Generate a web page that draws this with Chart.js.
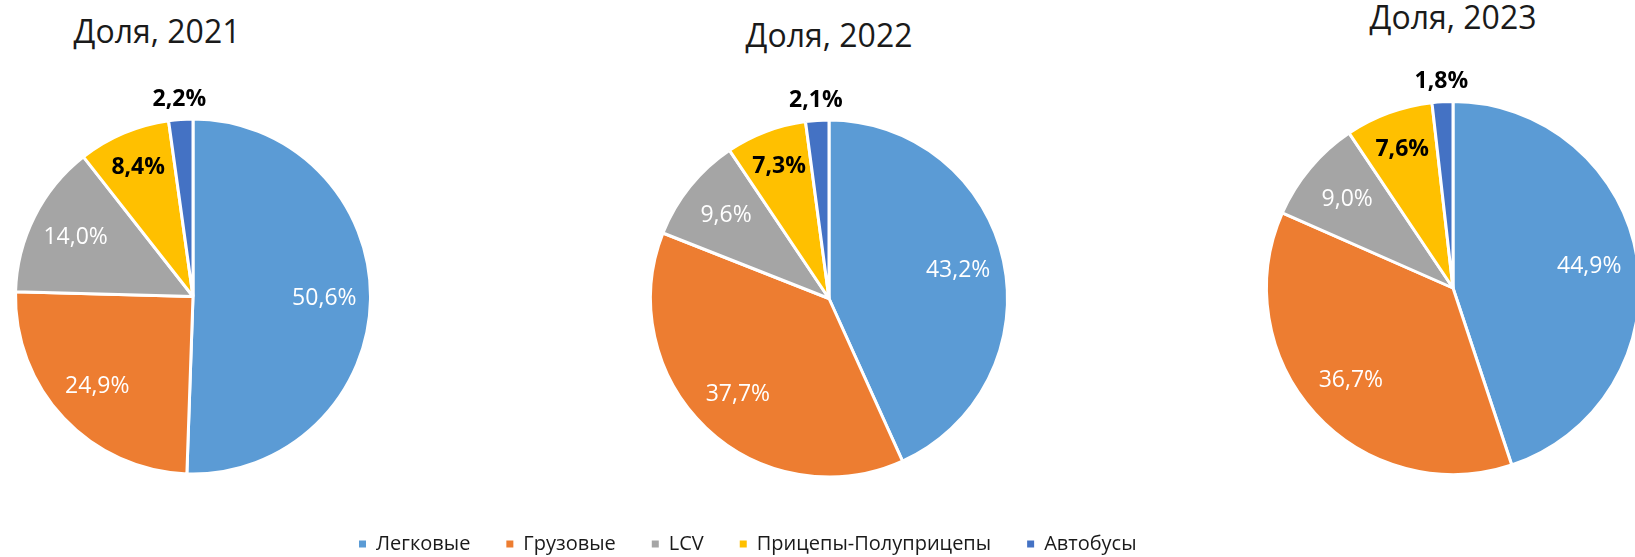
<!DOCTYPE html>
<html lang="ru">
<head>
<meta charset="UTF-8">
<title>Доля</title>
<script src="https://cdn.jsdelivr.net/npm/chart.js"></script>
<style>
  html, body { margin: 0; padding: 0; width: 1635px; height: 557px; overflow: hidden; background: #fff; }
  canvas { position: absolute; }
  .title { position: absolute; width: 300px; text-align: center; font-family: 'Open Sans', sans-serif; font-size: 32px; line-height: 32px; color: #1a1a1a; }
</style>
</head>
<body>

<div class="title" id="t1" style="left:7px; top:15px;"></div>
<div class="title" id="t2" style="left:679px; top:19px;"></div>
<div class="title" id="t3" style="left:1303px; top:1px;"></div>

<canvas id="pie2021" width="386" height="593" style="left:0; top:0;"></canvas>
<canvas id="pie2022" width="1012" height="564" style="left:323px; top:0;"></canvas>
<canvas id="pie2023" width="440" height="576" style="left:1233px; top:0;"></canvas>

<script>
// данные
const categories = ['Легковые', 'Грузовые', 'LCV', 'Прицепы-Полуприцепы', 'Автобусы'];
const years = ['2021', '2022', '2023'];
const share2021 = [50.6, 24.9, 14.0, 8.4, 2.2];
const share2022 = [43.2, 37.7, 9.6, 7.3, 2.1];
const share2023 = [44.9, 36.7, 9.0, 7.6, 1.8];

const colors = ['#5B9BD5', '#ED7D31', '#A5A5A5', '#FFC000', '#4472C4'];
const labelColors = ['#ffffff', '#ffffff', '#ffffff', '#000000', '#000000'];

Chart.defaults.font.family = "'Open Sans', sans-serif";

// подписи значений на секторах
const pieLabels = {
  id: 'pieLabels',
  afterDatasetsDraw(chart) {
    const ctx = chart.ctx;
    const values = chart.data.datasets[0].data;
    chart.getDatasetMeta(0).data.forEach((arc, i) => {
      const p = arc.getProps(['x', 'y', 'startAngle', 'endAngle', 'outerRadius'], true);
      const mid = (p.startAngle + p.endAngle) / 2;
      const outside = values[i] < 3;
      const dist = outside ? p.outerRadius + 20 : p.outerRadius * (i === 3 ? 0.79 : 0.74);
      const dark = labelColors[i] === '#000000';
      ctx.save();
      ctx.font = (dark ? 'bold ' : '') + "23px 'Open Sans', sans-serif";
      ctx.fillStyle = labelColors[i];
      ctx.textAlign = 'center';
      ctx.textBaseline = 'middle';
      ctx.fillText(values[i].toFixed(1).replace('.', ',') + '%',
        p.x + Math.cos(mid) * dist, p.y + Math.sin(mid) * dist);
      ctx.restore();
    });
  }
};

function makePie(id, values, radius, withLegend, padTop) {
  return new Chart(document.getElementById(id), {
    type: 'pie',
    data: {
      labels: categories,
      datasets: [{
        data: values,
        backgroundColor: colors,
        borderColor: '#ffffff',
        borderWidth: 3
      }]
    },
    options: {
      responsive: false,
      animation: false,
      radius: radius,
      layout: { padding: { top: padTop, bottom: 0, left: 0, right: 0 } },
      plugins: {
        tooltip: { enabled: false },
        legend: {
          display: withLegend,
          position: 'bottom',
          align: 'start',
          labels: {
            boxWidth: 7,
            boxHeight: 7,
            padding: 36,
            color: '#1a1a1a',
            font: { size: 20 },
            generateLabels(chart) {
              const items = Chart.overrides.doughnut.plugins.legend.labels.generateLabels(chart);
              return items.map(it => Object.assign(it, { lineWidth: 0, strokeStyle: 'rgba(0,0,0,0)' }));
            }
          }
        }
      }
    },
    plugins: [pieLabels]
  });
}

document.getElementById('t1').textContent = 'Доля, ' + years[0];
document.getElementById('t2').textContent = 'Доля, ' + years[1];
document.getElementById('t3').textContent = 'Доля, ' + years[2];

makePie('pie2021', share2021, 177.5, false, 0);
makePie('pie2022', share2022, 178.5, true, 99);
makePie('pie2023', share2023, 186.5, false, 0);
</script>
</body>
</html>
